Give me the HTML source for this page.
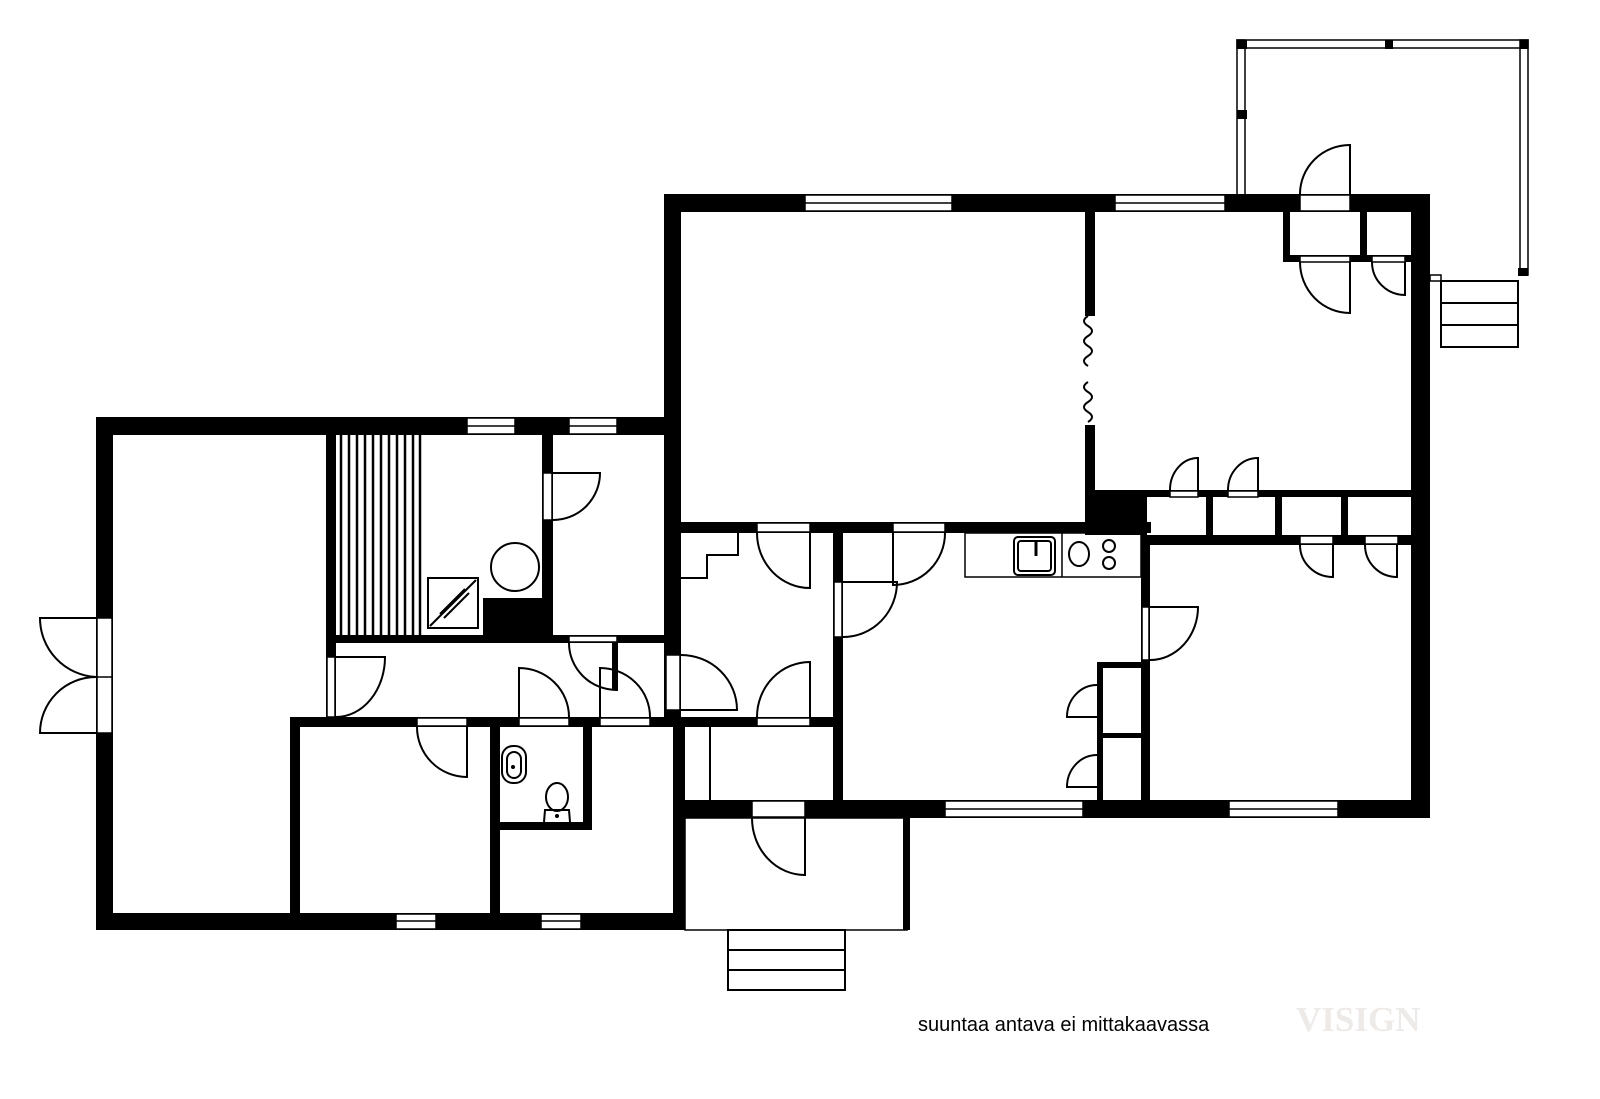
<!DOCTYPE html>
<html><head><meta charset="utf-8"><style>
html,body{margin:0;padding:0;background:#fff;}
svg{display:block;}
</style></head><body>
<svg width="1600" height="1099" viewBox="0 0 1600 1099" xmlns="http://www.w3.org/2000/svg">
<rect width="1600" height="1099" fill="#fff"/>
<g fill="#000">
<rect x="96" y="417" width="585" height="18"/>
<rect x="96" y="417" width="17" height="513"/>
<rect x="96" y="913" width="589" height="17"/>
<rect x="326" y="435" width="10" height="290"/>
<rect x="336" y="635" width="329" height="8"/>
<rect x="542" y="435" width="11" height="205"/>
<rect x="483" y="598" width="70" height="42"/>
<rect x="290" y="717" width="391" height="10"/>
<rect x="290" y="717" width="10" height="200"/>
<rect x="490" y="717" width="10" height="200"/>
<rect x="583" y="727" width="9" height="103"/>
<rect x="500" y="822" width="92" height="8"/>
<rect x="612" y="643" width="5" height="47"/>
<rect x="664" y="194" width="766" height="18"/>
<rect x="664" y="194" width="17" height="530"/>
<rect x="673" y="717" width="12" height="213"/>
<rect x="1411" y="194" width="19" height="624"/>
<rect x="681" y="522" width="470" height="11"/>
<rect x="1085" y="490" width="62" height="45"/>
<rect x="1085" y="212" width="10" height="104"/>
<rect x="1085" y="425" width="10" height="70"/>
<rect x="1095" y="490" width="316" height="7"/>
<rect x="1145" y="535" width="266" height="10"/>
<rect x="1206" y="497" width="7" height="38"/>
<rect x="1275" y="497" width="7" height="38"/>
<rect x="1341" y="497" width="7" height="38"/>
<rect x="1283" y="212" width="7" height="50"/>
<rect x="1283" y="255" width="128" height="7"/>
<rect x="1360" y="212" width="7" height="50"/>
<rect x="833" y="533" width="10" height="270"/>
<rect x="681" y="717" width="152" height="10"/>
<rect x="681" y="800" width="749" height="18"/>
<rect x="1141" y="535" width="9" height="270"/>
<rect x="1097" y="662" width="6" height="140"/>
<rect x="1097" y="662" width="48" height="6"/>
<rect x="1097" y="733" width="48" height="5"/>
<rect x="903" y="818" width="7" height="112"/>
</g>
<g fill="none" stroke="#000" stroke-width="2">
<line x1="710" y1="727" x2="710" y2="800"/>
<rect x="685" y="818" width="222" height="112" stroke-width="1.5"/>
<rect x="728" y="930" width="117" height="60"/>
<line x1="728" y1="950" x2="845" y2="950"/>
<line x1="728" y1="970" x2="845" y2="970"/>
<path d="M681 578 L707 578 L707 555 L738 555 L738 533"/>
<rect x="965" y="533" width="176" height="44" stroke-width="1.5"/>
<line x1="1062" y1="533" x2="1062" y2="577" stroke-width="1.5"/>
<rect x="1014" y="537" width="41" height="38" rx="4"/>
<rect x="1018" y="541" width="33" height="30" rx="3"/>
<line x1="1036" y1="541" x2="1036" y2="556" stroke-width="3"/>
<ellipse cx="1079" cy="554" rx="10" ry="12"/>
<ellipse cx="1109" cy="546" rx="6" ry="6"/>
<ellipse cx="1109" cy="563" rx="6" ry="6"/>
<rect x="428" y="578" width="50" height="50"/>
<line x1="430" y1="626" x2="476" y2="580"/>
<line x1="440" y1="614" x2="465" y2="589"/>
<line x1="444" y1="618" x2="469" y2="593"/>
<circle cx="515" cy="567" r="24"/>
<rect x="502" y="746" width="24" height="37" rx="11"/>
<rect x="507" y="752" width="14" height="26" rx="7"/>
<ellipse cx="557" cy="797" rx="11" ry="14"/>
<path d="M544 822 L545 810 L569 810 L570 822"/>
<rect x="1237" y="40" width="291" height="8" stroke-width="1.5"/>
<rect x="1237" y="40" width="8" height="155" stroke-width="1.5"/>
<rect x="1520" y="40" width="8" height="235" stroke-width="1.5"/>
<rect x="1430" y="275" width="11" height="6" stroke-width="1.5"/>
<rect x="1441" y="281" width="77" height="66"/>
<line x1="1441" y1="303" x2="1518" y2="303"/>
<line x1="1441" y1="325" x2="1518" y2="325"/>
<path d="M1088 316 q-8 5 0 10 q8 5 0 10 q-8 5 0 10 q8 5 0 10 q-8 5 0 10"/>
<path d="M1088 382 q-8 5 0 10 q8 5 0 10 q-8 5 0 10 q8 5 0 10"/>
</g>
<circle cx="513" cy="767" r="2"/>
<circle cx="557" cy="816" r="2"/>
<rect x="1237" y="40" width="10" height="9"/><rect x="1385" y="40" width="8" height="9"/><rect x="1520" y="40" width="8" height="9"/>
<rect x="1237" y="110" width="10" height="9"/><rect x="1518" y="268" width="10" height="8"/>
<g fill="#fff" stroke="#000" stroke-width="1.5">
<rect x="467" y="418" width="48" height="16"/><line x1="467" y1="426" x2="515" y2="426"/>
<rect x="569" y="418" width="48" height="16"/><line x1="569" y1="426" x2="617" y2="426"/>
<rect x="396" y="914" width="40" height="15"/><line x1="396" y1="921" x2="436" y2="921"/>
<rect x="541" y="914" width="40" height="15"/><line x1="541" y1="921" x2="581" y2="921"/>
<rect x="805" y="195" width="147" height="16"/><line x1="805" y1="203" x2="952" y2="203"/>
<rect x="1115" y="195" width="110" height="16"/><line x1="1115" y1="203" x2="1225" y2="203"/>
<rect x="945" y="801" width="138" height="16"/><line x1="945" y1="809" x2="1083" y2="809"/>
<rect x="1229" y="801" width="109" height="16"/><line x1="1229" y1="809" x2="1338" y2="809"/>
<rect x="97" y="618" width="15" height="115"/><line x1="97" y1="677" x2="112" y2="677"/>
<rect x="543" y="473" width="9" height="47"/>
<rect x="327" y="657" width="8" height="60"/>
<rect x="569" y="636" width="48" height="6"/>
<rect x="519" y="718" width="50" height="8"/>
<rect x="600" y="718" width="50" height="8"/>
<rect x="417" y="718" width="50" height="8"/>
<rect x="666" y="655" width="14" height="55"/>
<rect x="757" y="523" width="53" height="9"/>
<rect x="757" y="718" width="53" height="8"/>
<rect x="893" y="523" width="52" height="9"/>
<rect x="834" y="582" width="8" height="55"/>
<rect x="1142" y="607" width="7" height="53"/>
<rect x="752" y="801" width="53" height="16"/>
<rect x="1300" y="536" width="33" height="8"/>
<rect x="1365" y="536" width="33" height="8"/>
<rect x="1170" y="491" width="28" height="6"/>
<rect x="1228" y="491" width="30" height="6"/>
<rect x="1300" y="195" width="50" height="16"/>
<rect x="1300" y="256" width="50" height="6"/>
<rect x="1372" y="256" width="33" height="6"/>
</g>
<g fill="none" stroke="#000" stroke-width="2">
<path d="M96 618 L40 618 A59 59 0 0 0 96 677"/>
<path d="M96 733 L40 733 A56 56 0 0 1 96 677"/>
<path d="M553 473 L600 473 A47 47 0 0 1 553 520"/>
<path d="M336 657 L385 657 A49 60 0 0 1 336 717"/>
<path d="M617 643 L617 690 A48 47 0 0 1 569 643"/>
<path d="M519 717 L519 668 A50 49 0 0 1 569 717"/>
<path d="M600 717 L600 668 A50 49 0 0 1 650 717"/>
<path d="M467 727 L467 777 A50 50 0 0 1 417 727"/>
<path d="M681 710 L737 710 A56 55 0 0 0 681 655"/>
<path d="M810 533 L810 588 A53 55 0 0 1 757 533"/>
<path d="M810 717 L810 662 A53 55 0 0 0 757 717"/>
<path d="M893 533 L893 585 A52 52 0 0 0 945 533"/>
<path d="M843 582 L897 582 A54 55 0 0 1 843 637"/>
<path d="M1150 607 L1198 607 A48 53 0 0 1 1150 660"/>
<path d="M1097 717 L1067 717 A30 32 0 0 1 1097 685"/>
<path d="M1097 787 L1067 787 A30 32 0 0 1 1097 755"/>
<path d="M805 818 L805 875 A53 57 0 0 1 752 818"/>
<path d="M1333 545 L1333 577 A33 32 0 0 1 1300 545"/>
<path d="M1397 545 L1397 577 A32 32 0 0 1 1365 545"/>
<path d="M1198 490 L1198 458 A28 32 0 0 0 1170 490"/>
<path d="M1258 490 L1258 458 A30 32 0 0 0 1228 490"/>
<path d="M1350 194 L1350 145 A50 49 0 0 0 1300 194"/>
<path d="M1350 262 L1350 313 A50 51 0 0 1 1300 262"/>
<path d="M1405 262 L1405 295 A33 33 0 0 1 1372 262"/>
</g>
<g stroke="#000" stroke-width="2.5">
<line x1="341" y1="435" x2="341" y2="635"/><line x1="349" y1="435" x2="349" y2="635"/>
<line x1="357" y1="435" x2="357" y2="635"/><line x1="365" y1="435" x2="365" y2="635"/>
<line x1="373" y1="435" x2="373" y2="635"/><line x1="381" y1="435" x2="381" y2="635"/>
<line x1="389" y1="435" x2="389" y2="635"/><line x1="397" y1="435" x2="397" y2="635"/>
<line x1="405" y1="435" x2="405" y2="635"/><line x1="413" y1="435" x2="413" y2="635"/>
<line x1="420" y1="435" x2="420" y2="635"/>
</g>
<text x="918" y="1031" font-family="Liberation Sans, Arial, sans-serif" font-size="20" fill="#000">suuntaa antava ei mittakaavassa</text>
<text x="1296" y="1031" font-family="Liberation Serif, serif" font-size="35" font-weight="bold" fill="#eeeae8">VISIGN</text>
</svg>
</body></html>
